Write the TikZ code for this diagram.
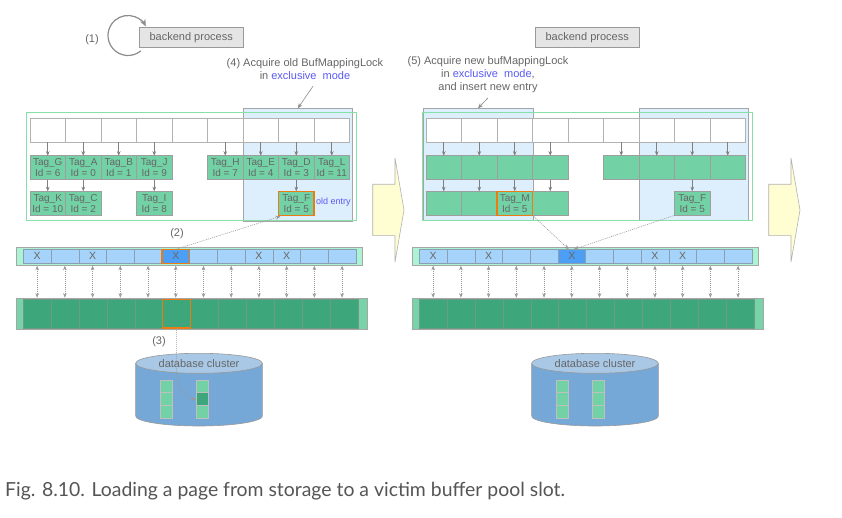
\documentclass[tikz,border=0pt]{standalone}
\usepackage{fontspec}
\usepackage{graphicx}
\setmainfont{Liberation Sans}
\newfontfamily\capfont{Lato}
\usetikzlibrary{arrows.meta,calc}
\definecolor{tagg}{HTML}{73D1A6}
\definecolor{poolg}{HTML}{3DA77B}
\definecolor{poolbar}{HTML}{78D3A8}
\definecolor{descbar}{HTML}{ABF3D3}
\definecolor{descb}{HTML}{A6D3FA}
\definecolor{desch}{HTML}{4D9FF5}
\definecolor{descln}{HTML}{8C9FB2}
\definecolor{poolln}{HTML}{6E9A86}
\definecolor{hlblue}{HTML}{DDEEFC}
\definecolor{frameg}{HTML}{86E0A8}
\definecolor{orng}{HTML}{EC7C12}
\definecolor{txtg}{HTML}{666666}
\definecolor{lblue}{HTML}{5A5AF5}
\definecolor{cylbody}{HTML}{75A8D6}
\definecolor{cyltop}{HTML}{A8C8E6}
\definecolor{yel}{HTML}{FFFDD2}
\definecolor{capc}{HTML}{555555}
\begin{document}
\begin{tikzpicture}[x=1pt,y=-1pt,
  topc/.style={draw=black!30, fill=white, minimum width=35.5pt, minimum height=24.5pt, inner sep=0pt, outer sep=0pt, anchor=north west},
  tagc/.style={draw=black!38, fill=tagg, minimum width=35.5pt, minimum height=24pt, inner sep=0pt, outer sep=0pt, anchor=north west, text=txtg, font=\fontsize{10}{11}\selectfont, align=center},
  descc/.style={draw=descln, fill=descb, minimum width=27.72pt, minimum height=14pt, inner sep=0pt, outer sep=0pt, anchor=north west, text=txtg, font=\fontsize{10.5}{11}\selectfont},
  poolc/.style={draw=poolln, fill=poolg, minimum width=27.87pt, minimum height=28.7pt, inner sep=0pt, outer sep=0pt, anchor=north west},
  bar/.style={draw=black!35, inner sep=0pt, outer sep=0pt, anchor=north west},
  hl/.style={draw=orng, line width=1.3pt},
  darr/.style={draw=black!50, line width=0.6pt, -{Stealth[length=4.5pt,width=3.6pt]}},
  dotarr/.style={draw=black!40, line width=0.6pt, dash pattern=on 1pt off 1pt, {Stealth[length=4.5pt,width=3.6pt]}-{Stealth[length=4.5pt,width=3.6pt]}},
  dotc/.style={draw=black!40, line width=0.6pt, dash pattern=on 1pt off 1pt, -{Stealth[length=5pt,width=4pt]}},
  larr/.style={draw=black!45, line width=0.6pt, -{Stealth[length=5pt,width=4pt]}},
  lab/.style={text=txtg, font=\fontsize{11}{13}\selectfont, inner sep=0pt, align=center},
  procbox/.style={draw=black!40, fill=black!10, text=txtg, font=\fontsize{11}{13}\selectfont, minimum width=104pt, minimum height=20pt, inner sep=0pt, anchor=north west},
  hlbox/.style={draw=black!35, fill=hlblue, inner sep=0pt, outer sep=0pt, anchor=north west},
  gframe/.style={draw=frameg, line width=1pt, inner sep=0pt, outer sep=0pt, anchor=north west},
  yarrow/.style={draw=black!30, fill=yel, line width=0.6pt},
  blk/.style={draw=black!25, fill=tagg, minimum width=12pt, minimum height=12.6pt, inner sep=0pt, outer sep=0pt, anchor=north west},
  cyl/.style={draw=black!40, line width=0.6pt},
  looparr/.style={draw=black!45, line width=1.2pt, -{Stealth[length=7pt,width=6pt]}},
]
\fill[white] (0,0) rectangle (842,518);
\useasboundingbox (0,0) rectangle (842,518);

% ================= LEFT PANEL =================
\node[procbox] (L-proc) at (139,27) {backend process};
\node[lab] (L-lab1) at (92,40) {(1)};
\coordinate (L-loop) at ($(128,35.5)+(50:20)$);
\draw[looparr] (L-loop) arc[start angle=50, end angle=333, radius=20];

\node[lab] (L-lab4) at (305,69.5) {(4) Acquire old BufMappingLock\\in \textcolor{lblue}{exclusive\ \ mode}};

\node[hlbox, minimum width=109pt, minimum height=112.5pt] (L-blue) at (243.3,108.3) {};
\node[gframe, minimum width=330pt, minimum height=108pt] (L-frame) at (26,113) {};
\draw[larr] ($(L-lab4.south)+(8,6)$) -- (L-blue.north);

\foreach \i in {0,...,8} \node[topc] (L-t\i) at ({30+35.5*\i},118) {};
\foreach \i/\t/\d in {0/G/6,1/A/0,2/B/1,3/J/9,5/H/7,6/E/4,7/D/3,8/L/11} {
  \node[tagc] (L-a\i) at ({30+35.5*\i},155.7) {Tag\_\t\\Id = \d};
  \draw[darr] (L-t\i) -- (L-a\i);
}
\foreach \i/\t/\d in {0/K/10,1/C/2,3/I/8} {
  \node[tagc] (L-b\i) at ({30+35.5*\i},191.3) {Tag\_\t\\Id = \d};
  \draw[darr] (L-a\i) -- (L-b\i);
}
\node[tagc, hl] (L-b7) at (278.5,191.3) {Tag\_F\\Id = 5};
\draw[darr] (L-a7) -- (L-b7);
\node[text=lblue, font=\fontsize{9}{10}\selectfont, inner sep=0pt, anchor=west] (L-old) at (316,202) {old entry};

% descriptors
\node[bar, fill=descbar, minimum width=346.3pt, minimum height=18.7pt] (L-dbar) at (15.7,247) {};
\foreach \i/\x in {0/X,1/,2/X,3/,4/,6/,7/,8/X,9/X,10/,11/}
  \node[descc] (L-d\i) at ({23.3+27.72*\i},249.3) {\x};
\node[descc, fill=desch, hl] (L-d5) at ({23.3+27.72*5},249.3) {X};
% pool
\node[bar, fill=poolbar, minimum width=351pt, minimum height=31.3pt] (L-pbar) at (15.7,297.7) {};
\foreach \i in {0,...,11} \node[poolc] (L-p\i) at ({23.3+27.87*\i},299.3) {};
\node[poolc, hl] (L-p5x) at ({23.3+27.87*5},299.3) {};
\foreach \i in {0,...,11}
  \draw[dotarr] (L-d\i.south |- L-dbar.south) -- (L-d\i.south |- L-pbar.north);

\node[lab] (L-lab2) at (177,234) {(2)};
\draw[dotc] (L-d5.north) -- ($(L-b7.south west)+(2,1)$);

% cylinder
\path[cyl, fill=cylbody] (135.7,363.3) -- (135.7,416) arc[start angle=180, end angle=0, x radius=63.3, y radius=10] -- (262.3,363.3) -- cycle;
\draw[cyl, fill=cyltop] (199,363.3) ellipse [x radius=63.3, y radius=10];
\node[lab] (L-db) at (199,364) {database cluster};
\foreach \k in {0,1,2} {
  \node[blk] (L-ca\k) at (160.3,{380+12.6*\k}) {};
}
\node[blk] (L-cb0) at (196,380) {};
\node[blk, fill=poolg] (L-cb1) at (196,392.6) {};
\node[blk] (L-cb2) at (196,405.2) {};
\node[lab] (L-lab3) at (159,342) {(3)};
\draw[dotc] (L-p5x.south) -- ++(0,43) .. controls +(0,16) and +(-10,0) .. (L-cb1.west);

% yellow arrow
\draw[yarrow] (372.7,184.3) -- (395,184.3) -- (395,158) -- (404,210) -- (395,262) -- (395,235.7) -- (372.7,235.7) -- cycle;

% ================= RIGHT PANEL =================
\node[procbox] (R-proc) at (535,27) {backend process};
\node[lab] (R-lab5) at (488,74.5) {(5) Acquire new bufMappingLock\\in \textcolor{lblue}{exclusive\ \ mode},\\and insert new entry};
\node[hlbox, minimum width=109.4pt, minimum height=112pt] (R-blue1) at (423.3,108.3) {};
\node[hlbox, minimum width=109.3pt, minimum height=112.4pt] (R-blue2) at (639,108.3) {};
\draw[larr] ($(R-lab5.south)+(0,5)$) -- (R-blue1.north);

\begin{scope}[xshift=396pt]
\node[gframe, minimum width=330pt, minimum height=108pt] (R-frame) at (26,113) {};
\foreach \i in {0,...,8} \node[topc] (R-t\i) at ({30+35.5*\i},118) {};
\foreach \i in {0,1,2,3,5,6,7,8} {
  \node[tagc] (R-a\i) at ({30+35.5*\i},155.7) {};
  \draw[darr] (R-t\i) -- (R-a\i);
}
\foreach \i in {0,1,3} {
  \node[tagc] (R-b\i) at ({30+35.5*\i},191.3) {};
  \draw[darr] (R-a\i) -- (R-b\i);
}
\node[tagc, hl] (R-b2) at ({30+35.5*2},191.3) {Tag\_M\\Id = 5};
\draw[darr] (R-a2) -- (R-b2);
\node[tagc] (R-b7) at ({30+35.5*7},191.3) {Tag\_F\\Id = 5};
\draw[darr] (R-a7) -- (R-b7);

\node[bar, fill=descbar, minimum width=346.3pt, minimum height=18.7pt] (R-dbar) at (15.7,247) {};
\foreach \i/\x in {0/X,1/,2/X,3/,4/,6/,7/,8/X,9/X,10/,11/}
  \node[descc] (R-d\i) at ({23.3+27.72*\i},249.3) {\x};
\node[descc, fill=desch] (R-d5) at ({23.3+27.72*5},249.3) {X};
\node[bar, fill=poolbar, minimum width=351pt, minimum height=31.3pt] (R-pbar) at (15.7,297.7) {};
\foreach \i in {0,...,11} \node[poolc] (R-p\i) at ({23.3+27.87*\i},299.3) {};
\foreach \i in {0,...,11}
  \draw[dotarr] (R-d\i.south |- R-dbar.south) -- (R-d\i.south |- R-pbar.north);
\draw[dotc] (R-b2.south east) -- ($(R-d5.north)+(-3,0)$);
\draw[dotc] (R-b7.south west) -- ($(R-d5.north)+(2,0)$);

\path[cyl, fill=cylbody] (135.7,363.3) -- (135.7,416) arc[start angle=180, end angle=0, x radius=63.3, y radius=10] -- (262.3,363.3) -- cycle;
\draw[cyl, fill=cyltop] (199,363.3) ellipse [x radius=63.3, y radius=10];
\node[lab] (R-db) at (199,364) {database cluster};
\foreach \k in {0,1,2} {
  \node[blk] (R-ca\k) at (160.3,{380+12.6*\k}) {};
  \node[blk] (R-cb\k) at (196,{380+12.6*\k}) {};
}
\draw[yarrow] (372.7,184.3) -- (395,184.3) -- (395,158) -- (404,210) -- (395,262) -- (395,235.7) -- (372.7,235.7) -- cycle;
\end{scope}

% caption
\node[anchor=base west, inner sep=0pt, text=capc, font=\capfont\fontsize{19.4}{22}\selectfont] (cap) at (5,496.7) {Fig. 8.10. Loading a page from storage to a victim buffer pool slot.};
\end{tikzpicture}
\end{document}
